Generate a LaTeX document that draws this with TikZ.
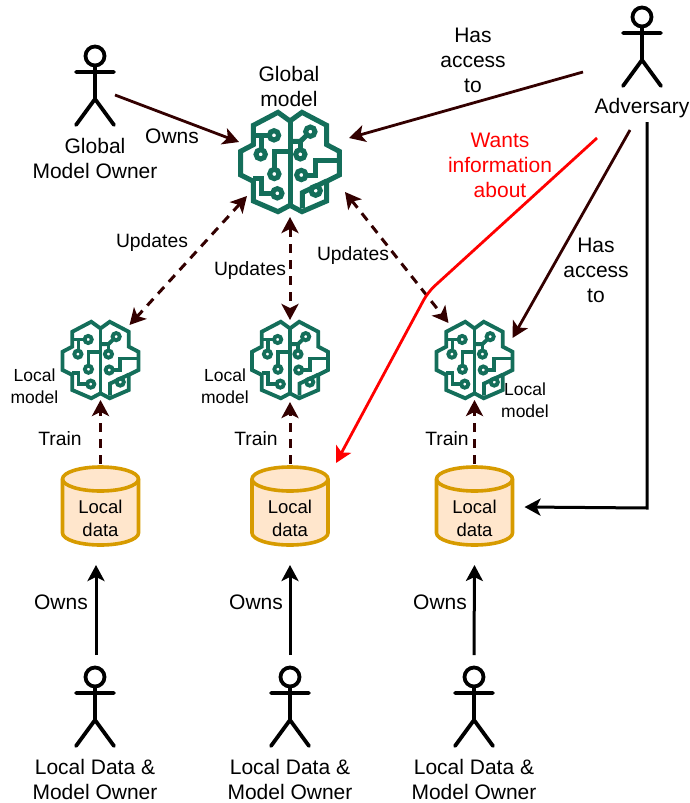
\documentclass[tikz,border=0pt]{standalone}
\usepackage{fontspec}
\setmainfont{Liberation Sans}
\usetikzlibrary{arrows.meta,calc,shapes.geometric}
\definecolor{brainc}{HTML}{146E5A}
\definecolor{arrowc}{HTML}{330000}
\definecolor{cylline}{HTML}{D79B00}
\definecolor{cylfill}{HTML}{FFE6CC}
\newcommand{\brainshape}[2]{%
 \begin{scope}[shift={(#1)},x=#2*0.3333pt,y=-#2*0.3333pt,line width=#2*5pt,draw=brainc,line join=miter,fill=none]
  \draw (0,-123)--(-36,-149)--(-110,-110)--(-110,-52)--(-148,-32)--(-148,39)--(-110,58)--(-110,117)--(-36,149)--(0,130)--(36,149)--(110,117)--(110,58)--(148,39)--(148,-32)--(110,-52)--(110,-110)--(36,-149)--cycle;
  \draw (0,-123)--(0,130);
  \draw (-110,-80)--(-62,-80);
  \draw (-86,-80)--(-86,-37);
  \draw (-48,-80) circle (14);
  \draw (-88,-23) circle (14);
  \draw (0,-32)--(-47,-32)--(-47,22);
  \draw (-47,36) circle (14);
  \draw (-110,49)--(-86,49)--(-86,94)--(-52,94);
  \draw (-38,94) circle (14);
  \draw (0,-62)--(31,-62)--(51,-81);
  \draw (61,-91) circle (14);
  \draw (31,-62)--(31,-37);
  \draw (31,-23) circle (14);
  \draw (148,-6)--(77,-6)--(77,39)--(48,39);
  \draw (34,39) circle (14);
  \draw (110,57)--(37,92)--(37,139);
  \draw (77,86) circle (14);
 \end{scope}}
\newcommand{\actorshape}[1]{%
 \begin{scope}[shift={(#1)},line width=3.8pt,line cap=round,line join=round]
  \draw (0,0) circle (9.5);
  \draw (0,9.5)--(0,43) (-19,16)--(19,16) (-19,69)--(0,43)--(19,69);
 \end{scope}}
\newcommand{\cylshape}[1]{%
 \begin{scope}[shift={(#1)},line width=3.6pt,draw=cylline,fill=cylfill]
  \filldraw (-38,-27) -- (-38,27) arc[start angle=180,end angle=0,x radius=38,y radius=12] -- (38,-27) arc[start angle=0,end angle=-180,x radius=38,y radius=12] -- cycle;
  \draw (-38,-27) arc[start angle=180,end angle=0,x radius=38,y radius=12];
 \end{scope}}
\tikzset{
 x=1pt,y=-1pt,
 lbl/.style={font=\fontsize{21}{25}\selectfont,align=center,inner sep=0pt,text=black},
 smalllbl/.style={font=\fontsize{19.3}{23.5}\selectfont,align=center,inner sep=0pt,text=black},
 anchorbox/.style={inner sep=0pt,minimum size=4pt},
 conn/.style={line width=2.8pt,draw=arrowc,-{Stealth[length=16pt,width=17pt,inset=4pt]}},
 dashconn/.style={line width=3pt,draw=arrowc,dash pattern=on 9pt off 7pt,{Stealth[length=16pt,width=17pt,inset=4pt]}-{Stealth[length=16pt,width=17pt,inset=4pt]}},
 trainconn/.style={line width=3pt,draw=arrowc,dash pattern=on 9pt off 7pt,-{Stealth[length=16pt,width=17pt,inset=4pt]}},
 blackconn/.style={line width=3pt,draw=black,-{Stealth[length=16pt,width=17pt,inset=4pt]}},
 redconn/.style={line width=2.8pt,draw=red,-{Stealth[length=16pt,width=17pt,inset=4pt]}},
}
\begin{document}
\begin{tikzpicture}
\useasboundingbox (0,0) rectangle (689,803);
% anchor nodes
\node[anchorbox] (gb) at (290,162) {};
\node[anchorbox] (b1) at (100.5,360) {};
\node[anchorbox] (b2) at (290,360) {};
\node[anchorbox] (b3) at (474.5,360) {};
\node[anchorbox] (c1) at (100.5,506) {};
\node[anchorbox] (c2) at (290,506) {};
\node[anchorbox] (c3) at (474.5,506) {};
\node[anchorbox] (ago) at (95,56) {};
\node[anchorbox] (adv) at (642,17) {};
\node[anchorbox] (a1) at (95,677) {};
\node[anchorbox] (a2) at (290,677) {};
\node[anchorbox] (a3) at (474,677) {};
\coordinate (bend) at (428,292);
% shapes
\brainshape{gb}{1}
\brainshape{b1}{0.77}
\brainshape{b2}{0.77}
\brainshape{b3}{0.77}
\cylshape{c1}\cylshape{c2}\cylshape{c3}
\actorshape{ago}\actorshape{adv}\actorshape{a1}\actorshape{a2}\actorshape{a3}
% connectors
\draw[conn] ($(ago)+(20,39)$) -- ($(gb)+(-51,-20)$);
\draw[conn] ($(adv)+(-59,55)$) -- ($(gb)+(59,-24)$);
\draw[conn] ($(adv)+(-12,113)$) -- ($(b3)+(38,-22)$);
\draw[dashconn] ($(gb)+(-43,34)$) -- ($(b1)+(29,-35)$);
\draw[dashconn] ($(gb)+(0,55)$) -- ($(b2)+(0,-40)$);
\draw[dashconn] ($(gb)+(55,30)$) -- ($(b3)+(-26,-37)$);
\draw[trainconn] ($(c1)+(0,-42)$) -- ($(b1)+(0,40)$);
\draw[trainconn] ($(c2)+(0,-42)$) -- ($(b2)+(0,42)$);
\draw[trainconn] ($(c3)+(0,-42)$) -- ($(b3)+(0,40)$);
\draw[blackconn] ($(a1)+(1,-22)$) -- ($(c1)+(-4.5,59)$);
\draw[blackconn] ($(a2)+(0,-22)$) -- ($(c2)+(0,59)$);
\draw[blackconn] ($(a3)+(0,-22)$) -- ($(c3)+(0,59)$);
\draw[blackconn,line join=miter] ($(adv)+(5,105)$) -- ($(adv)+(5,491)$) -- ($(c3)+(50,1)$);
\draw[redconn,rounded corners=9pt] ($(adv)+(-45,121)$) -- (bend) -- ($(c2)+(46,-43)$);
% labels
\node[lbl] (t1) at (289,86) {Global\\model};
\node[lbl] (t2) at (95,158.5) {Global\\Model Owner};
\node[lbl] (t3) at (172,136) {Owns};
\node[lbl] (t4) at (473,60.5) {Has\\access\\to};
\node[lbl] (t5) at (642,108) {Adversary};
\node[lbl,text=red] (t6) at (500,165.5) {Wants\\information\\about};
\node[smalllbl] (t7) at (152,243) {Updates};
\node[smalllbl] (t8) at (250,271) {Updates};
\node[smalllbl] (t9) at (353,256) {Updates};
\node[lbl] (t10) at (596,270.5) {Has\\access\\to};
\node[smalllbl,font=\fontsize{17.5}{21.7}\selectfont] (t11) at (34.5,386.5) {Local\\model};
\node[smalllbl,font=\fontsize{17.5}{21.7}\selectfont] (t12) at (225,386.5) {Local\\model};
\node[smalllbl,font=\fontsize{17.5}{21.7}\selectfont] (t13) at (525,400) {Local\\model};
\node[smalllbl] (t14) at (60,439) {Train};
\node[smalllbl] (t15) at (256,439) {Train};
\node[smalllbl] (t16) at (447,439) {Train};
\node[smalllbl,font=\fontsize{18.5}{23}\selectfont] (t17) at (100.5,518) {Local\\data};
\node[smalllbl,font=\fontsize{18.5}{23}\selectfont] (t18) at (290,518) {Local\\data};
\node[smalllbl,font=\fontsize{18.5}{23}\selectfont] (t19) at (474.5,518) {Local\\data};
\node[lbl] (t20) at (61,602) {Owns};
\node[lbl] (t21) at (256,602) {Owns};
\node[lbl] (t22) at (440,602) {Owns};
\node[lbl] (t23) at (95,779.5) {Local Data \&\\Model Owner};
\node[lbl] (t24) at (290,779.5) {Local Data \&\\Model Owner};
\node[lbl] (t25) at (474,779.5) {Local Data \&\\Model Owner};
\end{tikzpicture}
\end{document}
